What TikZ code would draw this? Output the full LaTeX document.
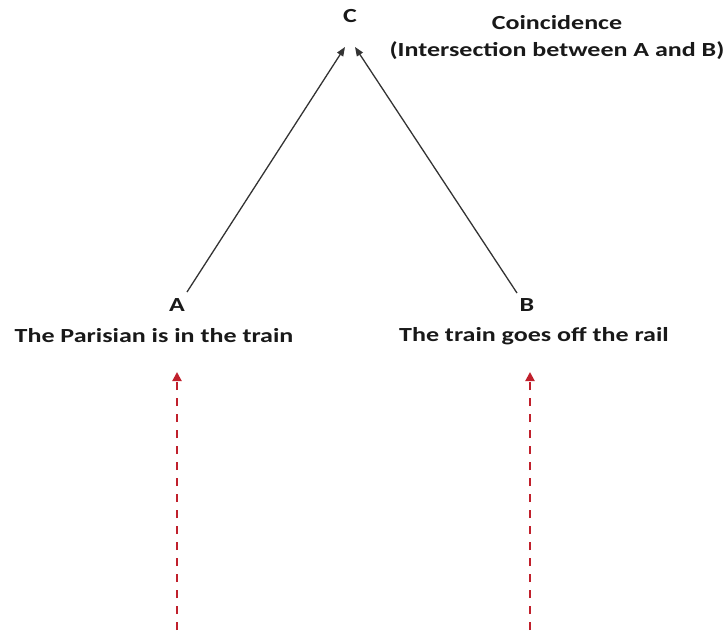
\documentclass[tikz,border=0pt]{standalone}
\usepackage{fontspec}
\setmainfont{Carlito}
\usetikzlibrary{arrows.meta}
\definecolor{dred}{RGB}{192,32,44}
\tikzset{
  lbl/.style={font=\bfseries\fontsize{20}{24}\selectfont, inner sep=0pt, text=black!90, xscale=1.3},
  blk/.style={draw=black!80, line width=1.3pt, -{Triangle[length=9pt,width=7pt]}},
  reddash/.style={draw=dred, line width=2pt, dash pattern=on 8pt off 8pt, -{Triangle[length=9pt,width=9pt]}}
}
\begin{document}
\begin{tikzpicture}[x=1pt,y=-1pt]
\useasboundingbox (0,0) rectangle (726,630);
\node[lbl] (C) at (350,16) {C};
\node[lbl] (coin) at (557,23) {Coincidence};
\node[lbl] (inter) at (557,51) {(Intersection between A and B)};
\node[lbl] (A) at (177,305) {A};
\node[lbl] (ta) at (154,336) {The Parisian is in the train};
\node[lbl] (B) at (527,305) {B};
\node[lbl] (tb) at (534,336) {The train goes off the rail};
\coordinate (cl) at (345,47);
\coordinate (cr) at (355,47);
\coordinate (al) at (187,292);
\coordinate (br) at (517,293);
\draw[blk] (al) -- (cl);
\draw[blk] (br) -- (cr);
\coordinate (ra0) at (177,630);
\coordinate (ra1) at (177,372);
\coordinate (rb0) at (530,630);
\coordinate (rb1) at (530,372);
\draw[reddash] (ra0) -- (ra1);
\draw[reddash] (rb0) -- (rb1);
\end{tikzpicture}
\end{document}
